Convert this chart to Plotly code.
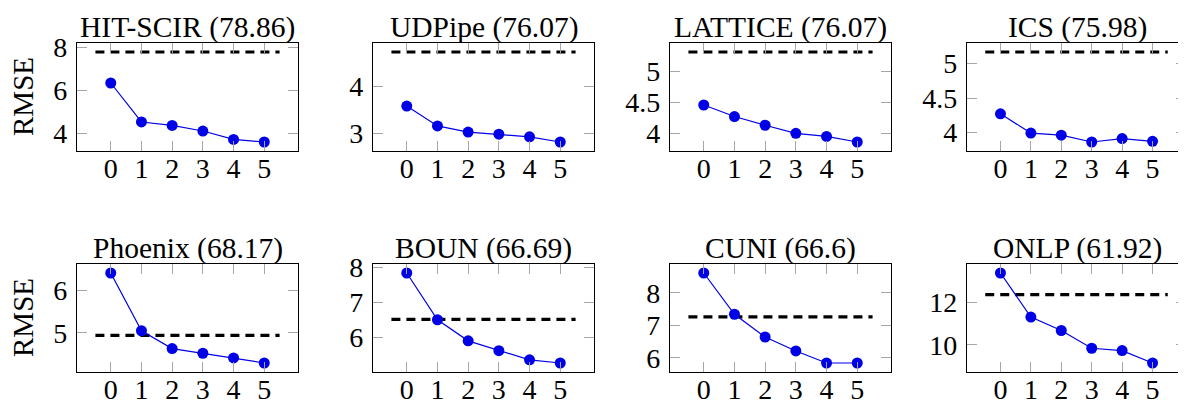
import plotly.graph_objects as go

# ---------------- data ----------------
systems = ["HIT-SCIR", "UDPipe", "LATTICE", "ICS", "Phoenix", "BOUN", "CUNI", "ONLP"]
las_scores = ["78.86", "76.07", "76.07", "75.98", "68.17", "66.69", "66.6", "61.92"]
k_values = [0, 1, 2, 3, 4, 5]
x_tick_labels = ["0", "1", "2", "3", "4", "5"]

rmse_hit_scir = [6.34, 4.53, 4.37, 4.11, 3.72, 3.60]
rmse_udpipe = [3.58, 3.16, 3.03, 2.985, 2.93, 2.82]
rmse_lattice = [4.456, 4.27, 4.13, 4.00, 3.95, 3.86]
rmse_ics = [4.27, 3.99, 3.96, 3.86, 3.91, 3.87]
rmse_phoenix = [6.41, 5.05, 4.63, 4.52, 4.41, 4.29]
rmse_boun = [7.83, 6.50, 5.90, 5.62, 5.36, 5.27]
rmse_cuni = [8.61, 7.34, 6.64, 6.21, 5.84, 5.84]
rmse_onlp = [13.36, 11.30, 10.67, 9.84, 9.73, 9.15]

baseline_rmse = [7.78, 4.725, 5.31, 5.17, 4.94, 6.51, 7.26, 12.35]
baseline_span = [-0.5, 5.5]

ytick_values = [[4, 6, 8], [3, 4], [4, 4.5, 5], [4, 4.5, 5],
                [5, 6], [6, 7, 8], [6, 7, 8], [10, 12]]
ytick_labels = [["4", "6", "8"], ["3", "4"], ["4", "4.5", "5"], ["4", "4.5", "5"],
                ["5", "6"], ["6", "7", "8"], ["6", "7", "8"], ["10", "12"]]

series = [rmse_hit_scir, rmse_udpipe, rmse_lattice, rmse_ics,
          rmse_phoenix, rmse_boun, rmse_cuni, rmse_onlp]

# ---------------- layout geometry (page pixels) ----------------
PAGE_W, PAGE_H = 1186, 401
OFF = 8                      # default body margin of the page
W, H = PAGE_W - OFF, PAGE_H - OFF
col_left = [77, 373, 670, 967]
col_width = 221
row_top = [43, 264]
row_height = [108, 108]

FONT = "Liberation Serif"
BLUE = "#0000e6"


def fx(px):
    return (px - OFF) / W


def fy(py):
    return 1 - (py - OFF) / H


fig = go.Figure()
layout = dict(
    template="none",
    width=W, height=H,
    margin=dict(l=0, r=0, t=0, b=0, pad=0),
    paper_bgcolor="white", plot_bgcolor="white",
    showlegend=False,
    font=dict(family=FONT, color="black"),
)
annotations = []

for i, (name, score, ys, base) in enumerate(zip(systems, las_scores, series, baseline_rmse)):
    r, c = divmod(i, 4)
    n = i + 1
    xa = f"x{n}" if n > 1 else "x"
    ya = f"y{n}" if n > 1 else "y"

    x0 = col_left[c]
    x1 = min(x0 + col_width, PAGE_W)
    yt = row_top[r]
    yb = yt + row_height[r]

    # pgfplots-like enlarge limits (10 %)
    xlo = min(min(k_values), baseline_span[0])
    xhi = max(max(k_values), baseline_span[1])
    xp = 0.1 * (xhi - xlo)
    ylo = min(min(ys), base)
    yhi = max(max(ys), base)
    yp = 0.1 * (yhi - ylo)

    fig.add_trace(go.Scatter(
        x=baseline_span, y=[base, base], mode="lines",
        line=dict(color="black", width=3.2, dash="9px,6px"),
        xaxis=xa, yaxis=ya, hoverinfo="skip"))
    fig.add_trace(go.Scatter(
        x=k_values, y=ys, mode="lines+markers",
        line=dict(color=BLUE, width=1.2),
        marker=dict(color=BLUE, size=11),
        xaxis=xa, yaxis=ya))

    axis_common = dict(
        automargin=False,
        showline=True, linecolor="black", linewidth=1.2, mirror="ticks",
        ticks="inside", ticklen=10, tickcolor="#a6a6a6", tickwidth=1,
        showgrid=False, zeroline=False,
        tickfont=dict(family=FONT, size=28, color="black"),
    )
    layout["xaxis" + (str(n) if n > 1 else "")] = dict(
        axis_common,
        domain=[fx(x0), min(fx(x1), 1.0)],
        range=[xlo - xp, xhi + xp],
        tickvals=k_values, ticktext=x_tick_labels,
        anchor=ya, ticklabelstandoff=-8,
    )
    layout["yaxis" + (str(n) if n > 1 else "")] = dict(
        axis_common,
        domain=[fy(yb), fy(yt)],
        range=[ylo - yp, yhi + yp],
        tickvals=ytick_values[i], ticktext=ytick_labels[i],
        anchor=xa, ticklabelstandoff=3,
    )

    annotations.append(dict(
        text=f"{name} ({score})", xref="paper", yref="paper",
        x=fx(x0 + col_width / 2), y=fy(yt - 16),
        xanchor="center", yanchor="middle", showarrow=False,
        font=dict(family=FONT, size=29.5, color="black")))

for r in range(2):
    annotations.append(dict(
        text="RMSE", xref="paper", yref="paper",
        x=fx(23), y=fy(row_top[r] + row_height[r] / 2),
        xanchor="center", yanchor="middle", textangle=-90, showarrow=False,
        font=dict(family=FONT, size=29, color="black")))

layout["annotations"] = annotations
fig.update_layout(**layout)
fig.write_html("out.html")
